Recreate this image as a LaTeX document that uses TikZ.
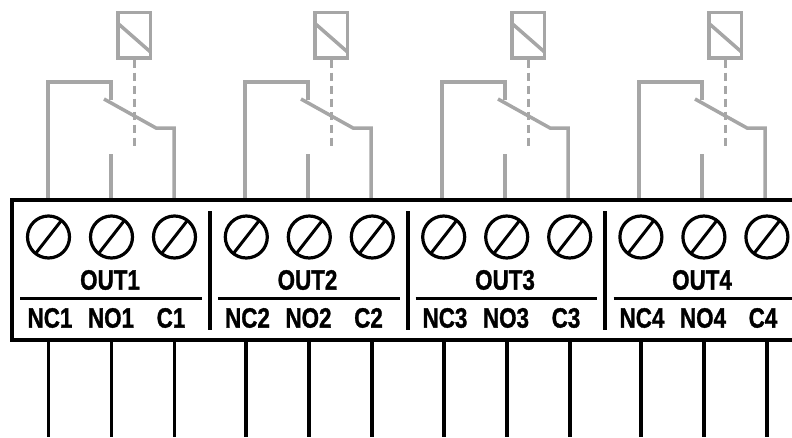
\documentclass[tikz,border=0pt]{standalone}
\usepackage{fontspec}
\setmainfont{Liberation Sans}[BoldFeatures={FakeBold=1.2}]
\usepackage{tikz}
\definecolor{relaygray}{HTML}{A6A6A6}
\tikzstyle{relay}=[relaygray,line width=3.5pt]
\tikzstyle{wire}=[black,line width=3.8pt]
\tikzstyle{rulebar}=[black,line width=3pt]
\tikzstyle{divider}=[black,line width=4.2pt]
\tikzstyle{coil}=[rectangle,draw=relaygray,line width=3.5pt,inner sep=0pt,
  minimum width=32.5pt,minimum height=45.5pt,
  path picture={\draw[relay] ([yshift=-11pt]path picture bounding box.north west)
    -- ([yshift=6pt]path picture bounding box.south east);}]
\tikzstyle{screw}=[circle,draw,line width=3.2pt,inner sep=0pt,minimum size=42pt,
  path picture={\draw[line width=3pt] (path picture bounding box.52)
    -- (path picture bounding box.232);}]
\tikzstyle{term}=[inner sep=0pt,font=\bfseries\fontsize{28}{28}\selectfont,xscale=0.8]

\begin{document}
\begin{tikzpicture}[x=1pt,y=-1pt]
  \useasboundingbox (0,0) rectangle (792,437);

  \coordinate (boxtl) at (12,200);
  \coordinate (boxtr) at (792,200);
  \coordinate (boxbl) at (12,340);
  \coordinate (boxbr) at (792,340);
  \coordinate (wireend) at (0,437);

  % relay 1
  \path (134,35) node (coil1) [coil] {};
  \coordinate (nca1) at (48,199);
  \coordinate (noa1) at (111,199);
  \coordinate (ca1) at (174,199);
  \coordinate (nob1) at (111,154);
  \coordinate (nct1) at (111,82);
  \coordinate (nce1) at (111,100);
  \coordinate (arms1) at (104,99);
  \coordinate (arme1) at (156,128);
  \coordinate (dash1) at (134,147);
  \draw[relay] (nca1) |- (nct1) -- (nce1);
  \draw[relay] (noa1) -- (nob1);
  \draw[relay] (arms1) -- (arme1) -| (ca1);
  \draw[relay,line width=3pt,dash pattern=on 8pt off 5pt] (coil1.south) -- (dash1);

  % relay 2
  \path (331,35) node (coil2) [coil] {};
  \coordinate (nca2) at (245,199);
  \coordinate (noa2) at (308,199);
  \coordinate (ca2) at (371,199);
  \coordinate (nob2) at (308,154);
  \coordinate (nct2) at (308,82);
  \coordinate (nce2) at (308,100);
  \coordinate (arms2) at (301,99);
  \coordinate (arme2) at (353,128);
  \coordinate (dash2) at (331,147);
  \draw[relay] (nca2) |- (nct2) -- (nce2);
  \draw[relay] (noa2) -- (nob2);
  \draw[relay] (arms2) -- (arme2) -| (ca2);
  \draw[relay,line width=3pt,dash pattern=on 8pt off 5pt] (coil2.south) -- (dash2);

  % relay 3
  \path (528,35) node (coil3) [coil] {};
  \coordinate (nca3) at (442,199);
  \coordinate (noa3) at (505,199);
  \coordinate (ca3) at (568,199);
  \coordinate (nob3) at (505,154);
  \coordinate (nct3) at (505,82);
  \coordinate (nce3) at (505,100);
  \coordinate (arms3) at (498,99);
  \coordinate (arme3) at (550,128);
  \coordinate (dash3) at (528,147);
  \draw[relay] (nca3) |- (nct3) -- (nce3);
  \draw[relay] (noa3) -- (nob3);
  \draw[relay] (arms3) -- (arme3) -| (ca3);
  \draw[relay,line width=3pt,dash pattern=on 8pt off 5pt] (coil3.south) -- (dash3);

  % relay 4
  \path (725,35) node (coil4) [coil] {};
  \coordinate (nca4) at (639,199);
  \coordinate (noa4) at (702,199);
  \coordinate (ca4) at (765,199);
  \coordinate (nob4) at (702,154);
  \coordinate (nct4) at (702,82);
  \coordinate (nce4) at (702,100);
  \coordinate (arms4) at (695,99);
  \coordinate (arme4) at (747,128);
  \coordinate (dash4) at (725,147);
  \draw[relay] (nca4) |- (nct4) -- (nce4);
  \draw[relay] (noa4) -- (nob4);
  \draw[relay] (arms4) -- (arme4) -| (ca4);
  \draw[relay,line width=3pt,dash pattern=on 8pt off 5pt] (coil4.south) -- (dash4);

  % terminal block, open on the right
  \draw[line width=4.6pt] (boxtr) -- (boxtl) -- (boxbl) -- (boxbr);

  \path (48.5,237) node (nc1) [screw] {};
  \path (111.5,237) node (no1) [screw] {};
  \path (174.5,237) node (c1) [screw] {};
  \path (246.3,237) node (nc2) [screw] {};
  \path (309.3,237) node (no2) [screw] {};
  \path (372.3,237) node (c2) [screw] {};
  \path (443.7,237) node (nc3) [screw] {};
  \path (506.7,237) node (no3) [screw] {};
  \path (569.7,237) node (c3) [screw] {};
  \path (640.9,237) node (nc4) [screw] {};
  \path (703.9,237) node (no4) [screw] {};
  \path (766.9,237) node (c4) [screw] {};

  \path (110,280) node (out1) [term] {OUT1};
  \path (307.5,280) node (out2) [term] {OUT2};
  \path (505,280) node (out3) [term] {OUT3};
  \path (702,280) node (out4) [term] {OUT4};

  \path (50,318) node (lnc1) [term] {NC1};
  \path (111,318) node (lno1) [term] {NO1};
  \path (171,318) node (lc1) [term] {C1};
  \path (247.5,318) node (lnc2) [term] {NC2};
  \path (308.5,318) node (lno2) [term] {NO2};
  \path (368.5,318) node (lc2) [term] {C2};
  \path (445,318) node (lnc3) [term] {NC3};
  \path (506,318) node (lno3) [term] {NO3};
  \path (566,318) node (lc3) [term] {C3};
  \path (642,318) node (lnc4) [term] {NC4};
  \path (703,318) node (lno4) [term] {NO4};
  \path (763,318) node (lc4) [term] {C4};

  \draw[rulebar] (20,298) -- (202,298);
  \draw[rulebar] (218,298) -- (400,298);
  \draw[rulebar] (415.5,298) -- (597,298);
  \draw[rulebar] (613.5,298) -- (792,298);

  \draw[divider] (210,211) -- (210,330);
  \draw[divider] (408,211) -- (408,330);
  \draw[divider] (605,211) -- (605,330);

  \draw[wire] (nc1 |- boxbl) -- (nc1 |- wireend);
  \draw[wire] (no1 |- boxbl) -- (no1 |- wireend);
  \draw[wire] (c1 |- boxbl) -- (c1 |- wireend);
  \draw[wire] (nc2 |- boxbl) -- (nc2 |- wireend);
  \draw[wire] (no2 |- boxbl) -- (no2 |- wireend);
  \draw[wire] (c2 |- boxbl) -- (c2 |- wireend);
  \draw[wire] (nc3 |- boxbl) -- (nc3 |- wireend);
  \draw[wire] (no3 |- boxbl) -- (no3 |- wireend);
  \draw[wire] (c3 |- boxbl) -- (c3 |- wireend);
  \draw[wire] (nc4 |- boxbl) -- (nc4 |- wireend);
  \draw[wire] (no4 |- boxbl) -- (no4 |- wireend);
  \draw[wire] (c4 |- boxbl) -- (c4 |- wireend);
\end{tikzpicture}
\end{document}
